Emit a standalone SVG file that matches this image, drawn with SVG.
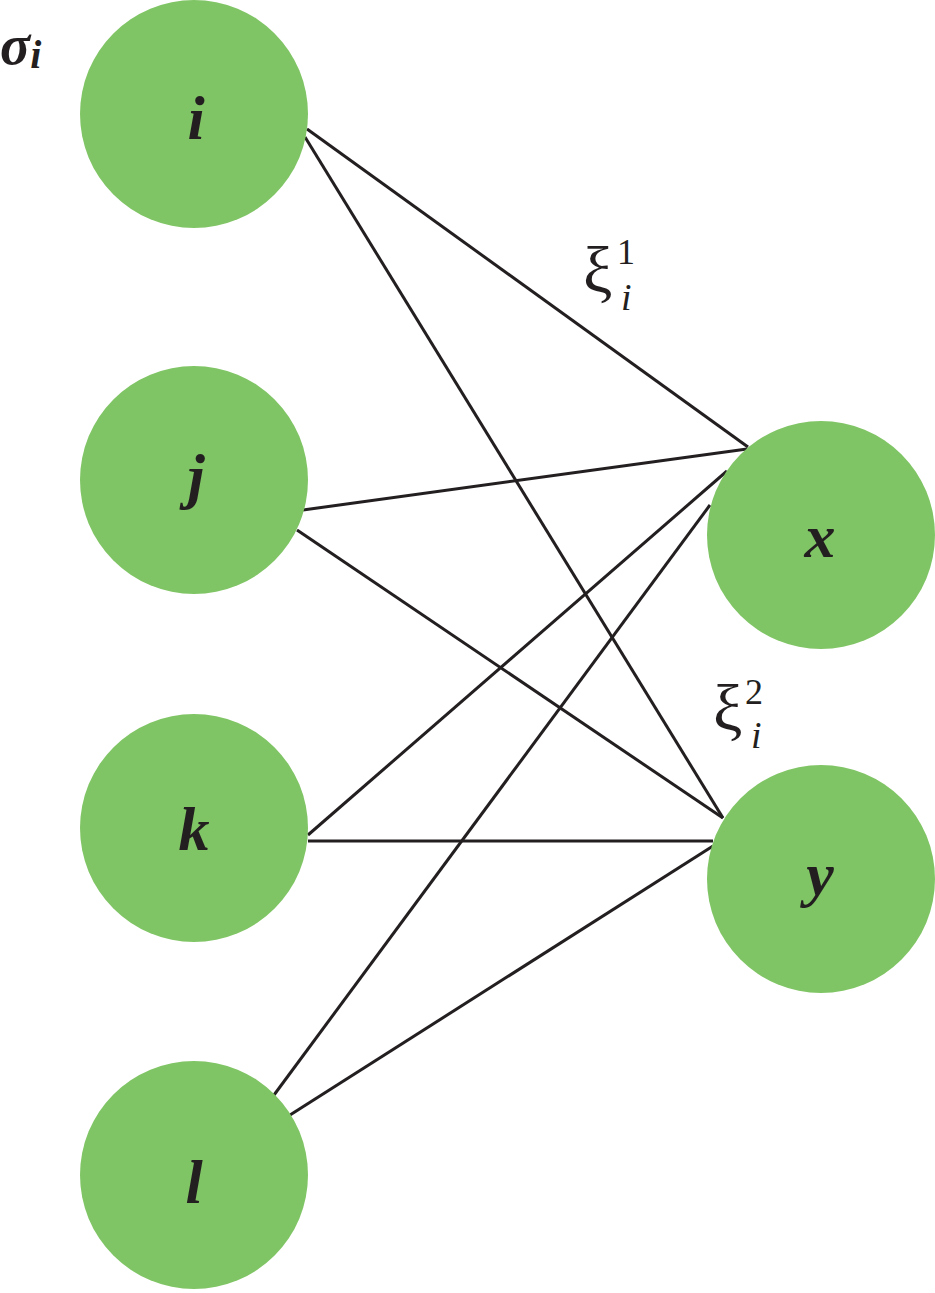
<svg xmlns="http://www.w3.org/2000/svg" width="935" height="1293" viewBox="0 0 935 1293">
<style>
.node{fill:#80c565}
.lbl{font-family:"Liberation Serif","Times New Roman",serif;font-style:italic;font-weight:bold;font-size:62px;fill:#231f20;text-anchor:middle}
.edge{stroke:#231f20;stroke-width:3;fill:none}
.m{font-family:"Liberation Serif","Times New Roman",serif;fill:#231f20}
</style>
<rect width="935" height="1293" fill="#fff"/>
<g id="connectors">
<line class="edge" x1="307" y1="129" x2="748" y2="447"/>
<line class="edge" x1="305" y1="137" x2="723" y2="818"/>
<line class="edge" x1="303" y1="510" x2="747" y2="449"/>
<line class="edge" x1="297" y1="530" x2="723" y2="818"/>
<line class="edge" x1="308" y1="835" x2="727" y2="471"/>
<line class="edge" x1="308" y1="841" x2="713" y2="841"/>
<line class="edge" x1="274" y1="1095" x2="710" y2="505"/>
<line class="edge" x1="290" y1="1115" x2="713" y2="846"/>
</g>
<g id="node-i"><circle class="node" cx="194" cy="114" r="114"/><text class="lbl" x="196" y="139">i</text></g>
<g id="node-j"><circle class="node" cx="194" cy="480" r="114"/><text class="lbl" x="196" y="497">j</text></g>
<g id="node-k"><circle class="node" cx="194" cy="828" r="114"/><text class="lbl" x="194" y="850">k</text></g>
<g id="node-l"><circle class="node" cx="194" cy="1175" r="114"/><text class="lbl" x="194" y="1203">l</text></g>
<g id="node-x"><circle class="node" cx="821" cy="535" r="114"/><text class="lbl" x="820" y="557">x</text></g>
<g id="node-y"><circle class="node" cx="821" cy="879" r="114"/><text class="lbl" x="820" y="895">y</text></g>
<g id="labels">
<text class="m" x="0" y="64" font-size="56" font-style="italic" font-weight="bold">σ<tspan font-size="40" dy="4">i</tspan></text>
<text class="m" x="583" y="292" font-size="66">ξ</text>
<text class="m" x="617" y="264" font-size="36">1</text>
<text class="m" x="621" y="310" font-size="38" font-style="italic">i</text>
<text class="m" x="713" y="730" font-size="66">ξ</text>
<text class="m" x="745" y="704" font-size="36">2</text>
<text class="m" x="751" y="748" font-size="38" font-style="italic">i</text>
</g>
</svg>
